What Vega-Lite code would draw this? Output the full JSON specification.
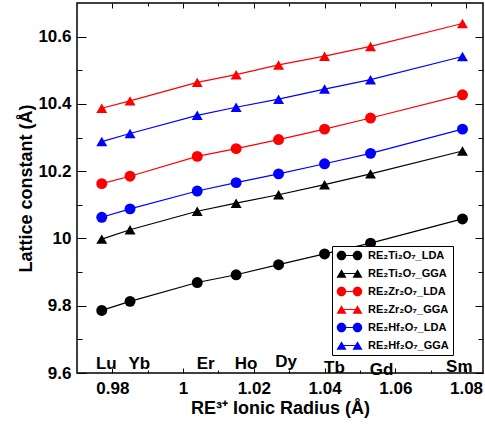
{
  "$schema": "https://vega.github.io/schema/vega-lite/v6.json",
  "width": 406,
  "height": 370,
  "autosize": "none",
  "padding": {"left": 77, "top": 3, "right": 2, "bottom": 56},
  "background": "white",
  "config": {
    "view": {"stroke": "black", "strokeWidth": 1.5},
    "font": "Liberation Sans",
    "axis": {
      "domain": false, "grid": false, "tickColor": "black", "tickWidth": 1,
      "labelFont": "Liberation Sans", "labelFontWeight": "bold", "labelFontSize": 17, "labelColor": "black",
      "titleFont": "Liberation Sans", "titleFontWeight": "bold", "titleFontSize": 18, "titleColor": "black",
      "labelFlush": false
    }
  },
  "datasets": {
    "pts": [
      {"series": "RE₂Ti₂O₇_LDA", "element": "Lu", "radius": 0.977, "value": 9.786},
      {"series": "RE₂Ti₂O₇_LDA", "element": "Yb", "radius": 0.985, "value": 9.813},
      {"series": "RE₂Ti₂O₇_LDA", "element": "Er", "radius": 1.004, "value": 9.869},
      {"series": "RE₂Ti₂O₇_LDA", "element": "Ho", "radius": 1.015, "value": 9.892},
      {"series": "RE₂Ti₂O₇_LDA", "element": "Dy", "radius": 1.027, "value": 9.922},
      {"series": "RE₂Ti₂O₇_LDA", "element": "Tb", "radius": 1.040, "value": 9.954},
      {"series": "RE₂Ti₂O₇_LDA", "element": "Gd", "radius": 1.053, "value": 9.986},
      {"series": "RE₂Ti₂O₇_LDA", "element": "Sm", "radius": 1.079, "value": 10.058},
      {"series": "RE₂Ti₂O₇_GGA", "element": "Lu", "radius": 0.977, "value": 9.998},
      {"series": "RE₂Ti₂O₇_GGA", "element": "Yb", "radius": 0.985, "value": 10.026},
      {"series": "RE₂Ti₂O₇_GGA", "element": "Er", "radius": 1.004, "value": 10.081},
      {"series": "RE₂Ti₂O₇_GGA", "element": "Ho", "radius": 1.015, "value": 10.105},
      {"series": "RE₂Ti₂O₇_GGA", "element": "Dy", "radius": 1.027, "value": 10.130},
      {"series": "RE₂Ti₂O₇_GGA", "element": "Tb", "radius": 1.040, "value": 10.160},
      {"series": "RE₂Ti₂O₇_GGA", "element": "Gd", "radius": 1.053, "value": 10.192},
      {"series": "RE₂Ti₂O₇_GGA", "element": "Sm", "radius": 1.079, "value": 10.260},
      {"series": "RE₂Zr₂O₇_LDA", "element": "Lu", "radius": 0.977, "value": 10.163},
      {"series": "RE₂Zr₂O₇_LDA", "element": "Yb", "radius": 0.985, "value": 10.185},
      {"series": "RE₂Zr₂O₇_LDA", "element": "Er", "radius": 1.004, "value": 10.244},
      {"series": "RE₂Zr₂O₇_LDA", "element": "Ho", "radius": 1.015, "value": 10.267},
      {"series": "RE₂Zr₂O₇_LDA", "element": "Dy", "radius": 1.027, "value": 10.294},
      {"series": "RE₂Zr₂O₇_LDA", "element": "Tb", "radius": 1.040, "value": 10.325},
      {"series": "RE₂Zr₂O₇_LDA", "element": "Gd", "radius": 1.053, "value": 10.358},
      {"series": "RE₂Zr₂O₇_LDA", "element": "Sm", "radius": 1.079, "value": 10.427},
      {"series": "RE₂Zr₂O₇_GGA", "element": "Lu", "radius": 0.977, "value": 10.387},
      {"series": "RE₂Zr₂O₇_GGA", "element": "Yb", "radius": 0.985, "value": 10.409},
      {"series": "RE₂Zr₂O₇_GGA", "element": "Er", "radius": 1.004, "value": 10.464},
      {"series": "RE₂Zr₂O₇_GGA", "element": "Ho", "radius": 1.015, "value": 10.487},
      {"series": "RE₂Zr₂O₇_GGA", "element": "Dy", "radius": 1.027, "value": 10.516},
      {"series": "RE₂Zr₂O₇_GGA", "element": "Tb", "radius": 1.040, "value": 10.542},
      {"series": "RE₂Zr₂O₇_GGA", "element": "Gd", "radius": 1.053, "value": 10.571},
      {"series": "RE₂Zr₂O₇_GGA", "element": "Sm", "radius": 1.079, "value": 10.639},
      {"series": "RE₂Hf₂O₇_LDA", "element": "Lu", "radius": 0.977, "value": 10.063},
      {"series": "RE₂Hf₂O₇_LDA", "element": "Yb", "radius": 0.985, "value": 10.088},
      {"series": "RE₂Hf₂O₇_LDA", "element": "Er", "radius": 1.004, "value": 10.141},
      {"series": "RE₂Hf₂O₇_LDA", "element": "Ho", "radius": 1.015, "value": 10.166},
      {"series": "RE₂Hf₂O₇_LDA", "element": "Dy", "radius": 1.027, "value": 10.192},
      {"series": "RE₂Hf₂O₇_LDA", "element": "Tb", "radius": 1.040, "value": 10.222},
      {"series": "RE₂Hf₂O₇_LDA", "element": "Gd", "radius": 1.053, "value": 10.253},
      {"series": "RE₂Hf₂O₇_LDA", "element": "Sm", "radius": 1.079, "value": 10.325},
      {"series": "RE₂Hf₂O₇_GGA", "element": "Lu", "radius": 0.977, "value": 10.288},
      {"series": "RE₂Hf₂O₇_GGA", "element": "Yb", "radius": 0.985, "value": 10.312},
      {"series": "RE₂Hf₂O₇_GGA", "element": "Er", "radius": 1.004, "value": 10.366},
      {"series": "RE₂Hf₂O₇_GGA", "element": "Ho", "radius": 1.015, "value": 10.390},
      {"series": "RE₂Hf₂O₇_GGA", "element": "Dy", "radius": 1.027, "value": 10.414},
      {"series": "RE₂Hf₂O₇_GGA", "element": "Tb", "radius": 1.040, "value": 10.444},
      {"series": "RE₂Hf₂O₇_GGA", "element": "Gd", "radius": 1.053, "value": 10.472},
      {"series": "RE₂Hf₂O₇_GGA", "element": "Sm", "radius": 1.079, "value": 10.541}
    ],
    "labs": [
      {"element": "Lu", "lx": 0.9783, "ly": 9.611},
      {"element": "Yb", "lx": 0.9876, "ly": 9.611},
      {"element": "Er", "lx": 1.0064, "ly": 9.611},
      {"element": "Ho", "lx": 1.0178, "ly": 9.611},
      {"element": "Dy", "lx": 1.0291, "ly": 9.6187},
      {"element": "Tb", "lx": 1.0428, "ly": 9.600},
      {"element": "Gd", "lx": 1.0561, "ly": 9.5955},
      {"element": "Sm", "lx": 1.0781, "ly": 9.604}
    ]
  },
  "layer": [
    {
      "data": {"name": "pts"},
      "mark": {"type": "line", "strokeWidth": 1.2},
      "encoding": {
        "x": {"field": "radius", "type": "quantitative",
          "scale": {"domain": [0.97, 1.0848], "nice": false, "zero": false},
          "axis": {"orient": "bottom", "values": [0.98, 1, 1.02, 1.04, 1.06, 1.08], "format": "~g", "tickSize": -5, "labelPadding": 12, "title": "RE³⁺ Ionic Radius (Å)", "titlePadding": 3}},
        "y": {"field": "value", "type": "quantitative",
          "scale": {"domain": [9.6, 10.7], "nice": false, "zero": false},
          "axis": {"orient": "left", "values": [9.6, 9.8, 10, 10.2, 10.4, 10.6], "format": "~g", "tickSize": -9, "labelPadding": 15, "title": "Lattice constant (Å)", "titlePadding": 2}},
        "color": {"field": "series", "type": "nominal",
          "scale": {"domain": ["RE₂Ti₂O₇_LDA", "RE₂Ti₂O₇_GGA", "RE₂Zr₂O₇_LDA", "RE₂Zr₂O₇_GGA", "RE₂Hf₂O₇_LDA", "RE₂Hf₂O₇_GGA"], "range": ["#000000", "#000000", "#ff0000", "#ff0000", "#0000ff", "#0000ff"]},
          "legend": null}
      }
    },
    {
      "data": {"name": "pts"},
      "mark": {"type": "point", "filled": true, "opacity": 1, "size": 120},
      "encoding": {
        "x": {"field": "radius", "type": "quantitative",
          "scale": {"domain": [0.97, 1.0848], "nice": false, "zero": false},
          "axis": {"orient": "top", "values": [0.98, 1, 1.02, 1.04, 1.06, 1.08], "labels": false, "tickSize": -5, "title": null}},
        "y": {"field": "value", "type": "quantitative",
          "scale": {"domain": [9.6, 10.7], "nice": false, "zero": false},
          "axis": {"orient": "right", "values": [9.6, 9.8, 10, 10.2, 10.4, 10.6], "labels": false, "tickSize": -8, "title": null}},
        "color": {"field": "series", "type": "nominal",
          "scale": {"domain": ["RE₂Ti₂O₇_LDA", "RE₂Ti₂O₇_GGA", "RE₂Zr₂O₇_LDA", "RE₂Zr₂O₇_GGA", "RE₂Hf₂O₇_LDA", "RE₂Hf₂O₇_GGA"], "range": ["#000000", "#000000", "#ff0000", "#ff0000", "#0000ff", "#0000ff"]},
          "legend": null},
        "shape": {"field": "series", "type": "nominal",
          "scale": {"domain": ["RE₂Ti₂O₇_LDA", "RE₂Ti₂O₇_GGA", "RE₂Zr₂O₇_LDA", "RE₂Zr₂O₇_GGA", "RE₂Hf₂O₇_LDA", "RE₂Hf₂O₇_GGA"], "range": ["circle", "triangle-up", "circle", "triangle-up", "circle", "triangle-up"]},
          "legend": null}
      }
    },
    {
      "data": {"name": "pts"},
      "mark": {"type": "point", "filled": true, "opacity": 0, "size": 100},
      "encoding": {
        "x": {"field": "radius", "type": "quantitative",
          "scale": {"domain": [0.97, 1.0848], "nice": false, "zero": false},
          "axis": {"orient": "bottom", "values": [0.99, 1.01, 1.03, 1.05, 1.07], "labels": false, "tickSize": -3, "title": null}},
        "y": {"field": "value", "type": "quantitative",
          "scale": {"domain": [9.6, 10.7], "nice": false, "zero": false},
          "axis": {"orient": "left", "values": [9.7, 9.9, 10.1, 10.3, 10.5], "labels": false, "tickSize": -5, "title": null}},
        "color": {"field": "series", "type": "nominal",
          "scale": {"domain": ["RE₂Ti₂O₇_LDA", "RE₂Ti₂O₇_GGA", "RE₂Zr₂O₇_LDA", "RE₂Zr₂O₇_GGA", "RE₂Hf₂O₇_LDA", "RE₂Hf₂O₇_GGA"], "range": ["#000000", "#000000", "#ff0000", "#ff0000", "#0000ff", "#0000ff"]},
          "legend": {"orient": "none", "legendX": 255, "legendY": 243, "direction": "vertical", "title": null, "padding": 4, "strokeColor": "black", "fillColor": "white", "symbolSize": 100, "symbolStrokeWidth": 0, "symbolOpacity": 1, "symbolOffset": 8, "labelFont": "Liberation Sans", "labelFontWeight": "bold", "labelFontSize": 11, "labelColor": "black", "labelOffset": 13, "rowPadding": 6}},
        "shape": {"field": "series", "type": "nominal",
          "scale": {"domain": ["RE₂Ti₂O₇_LDA", "RE₂Ti₂O₇_GGA", "RE₂Zr₂O₇_LDA", "RE₂Zr₂O₇_GGA", "RE₂Hf₂O₇_LDA", "RE₂Hf₂O₇_GGA"],
            "range": [
              "M -2.55 0 A 0.95 0.95 0 1 1 -0.65 0 A 0.95 0.95 0 1 1 -2.55 0 Z M 0.65 0 A 0.95 0.95 0 1 1 2.55 0 A 0.95 0.95 0 1 1 0.65 0 Z M -1.6 -0.12 L 1.6 -0.12 L 1.6 0.12 L -1.6 0.12 Z",
              "M -2.6 0.87 L -1.6 -0.87 L -0.6 0.87 Z M 0.6 0.87 L 1.6 -0.87 L 2.6 0.87 Z M -1.6 -0.12 L 1.6 -0.12 L 1.6 0.12 L -1.6 0.12 Z",
              "M -2.55 0 A 0.95 0.95 0 1 1 -0.65 0 A 0.95 0.95 0 1 1 -2.55 0 Z M 0.65 0 A 0.95 0.95 0 1 1 2.55 0 A 0.95 0.95 0 1 1 0.65 0 Z M -1.6 -0.12 L 1.6 -0.12 L 1.6 0.12 L -1.6 0.12 Z",
              "M -2.6 0.87 L -1.6 -0.87 L -0.6 0.87 Z M 0.6 0.87 L 1.6 -0.87 L 2.6 0.87 Z M -1.6 -0.12 L 1.6 -0.12 L 1.6 0.12 L -1.6 0.12 Z",
              "M -2.55 0 A 0.95 0.95 0 1 1 -0.65 0 A 0.95 0.95 0 1 1 -2.55 0 Z M 0.65 0 A 0.95 0.95 0 1 1 2.55 0 A 0.95 0.95 0 1 1 0.65 0 Z M -1.6 -0.12 L 1.6 -0.12 L 1.6 0.12 L -1.6 0.12 Z",
              "M -2.6 0.87 L -1.6 -0.87 L -0.6 0.87 Z M 0.6 0.87 L 1.6 -0.87 L 2.6 0.87 Z M -1.6 -0.12 L 1.6 -0.12 L 1.6 0.12 L -1.6 0.12 Z"
            ]},
          "legend": {"orient": "none", "legendX": 255, "legendY": 243, "direction": "vertical", "title": null, "padding": 4, "strokeColor": "black", "fillColor": "white", "symbolSize": 100, "symbolStrokeWidth": 0, "symbolOpacity": 1, "symbolOffset": 8, "labelFont": "Liberation Sans", "labelFontWeight": "bold", "labelFontSize": 11, "labelColor": "black", "labelOffset": 13, "rowPadding": 6}}
      }
    },
    {
      "data": {"name": "labs"},
      "mark": {"type": "text", "font": "Liberation Sans", "fontWeight": "bold", "fontSize": 17, "color": "black", "align": "center", "baseline": "alphabetic"},
      "encoding": {
        "x": {"field": "lx", "type": "quantitative",
          "scale": {"domain": [0.97, 1.0848], "nice": false, "zero": false},
          "axis": {"orient": "top", "values": [0.99, 1.01, 1.03, 1.05, 1.07], "labels": false, "tickSize": -3, "title": null}},
        "y": {"field": "ly", "type": "quantitative",
          "scale": {"domain": [9.6, 10.7], "nice": false, "zero": false},
          "axis": {"orient": "right", "values": [9.7, 9.9, 10.1, 10.3, 10.5], "labels": false, "tickSize": -5, "title": null}},
        "text": {"field": "element", "type": "nominal"}
      }
    }
  ],
  "resolve": {
    "axis": {"x": "independent", "y": "independent"},
    "scale": {"color": "independent", "shape": "independent"},
    "legend": {"color": "independent", "shape": "independent"}
  }
}
